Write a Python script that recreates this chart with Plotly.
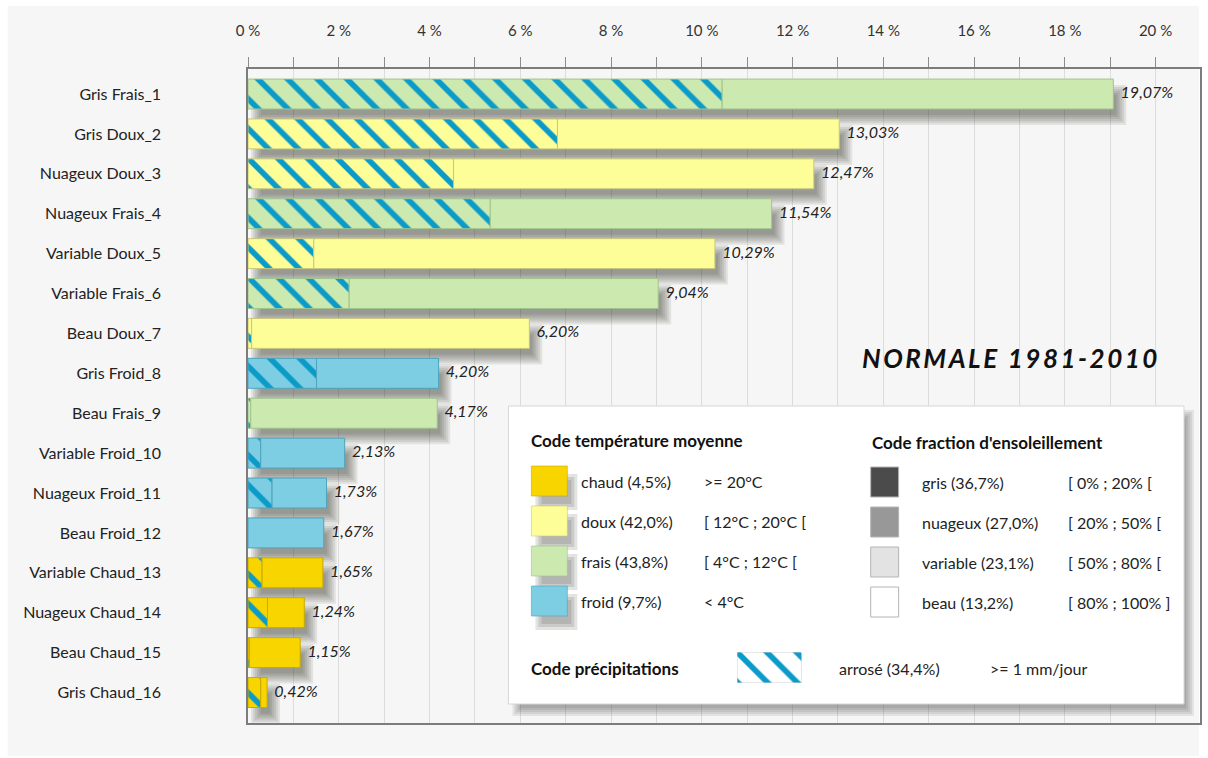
import plotly.graph_objects as go

# ---- data -------------------------------------------------------------
categories = [
    "Gris Frais_1", "Gris Doux_2", "Nuageux Doux_3", "Nuageux Frais_4",
    "Variable Doux_5", "Variable Frais_6", "Beau Doux_7", "Gris Froid_8",
    "Beau Frais_9", "Variable Froid_10", "Nuageux Froid_11", "Beau Froid_12",
    "Variable Chaud_13", "Nuageux Chaud_14", "Beau Chaud_15", "Gris Chaud_16",
]
totals = [19.07, 13.03, 12.47, 11.54, 10.29, 9.04, 6.20, 4.20,
          4.17, 2.13, 1.73, 1.67, 1.65, 1.24, 1.15, 0.42]
arrose = [10.45, 6.82, 4.53, 5.34, 1.45, 2.23, 0.08, 1.51,
          0.06, 0.28, 0.53, 0.00, 0.31, 0.43, 0.03, 0.28]
temperature = ["frais", "doux", "doux", "frais", "doux", "frais", "doux", "froid",
               "frais", "froid", "froid", "froid", "chaud", "chaud", "chaud", "chaud"]
ensoleillement = ["gris", "gris", "nuageux", "nuageux", "variable", "variable", "beau", "gris",
                  "beau", "variable", "nuageux", "beau", "variable", "nuageux", "beau", "gris"]
x_ticks = list(range(0, 21))

temp_legend = [
    ("chaud", "chaud (4,5%)", ">= 20°C"),
    ("doux", "doux (42,0%)", "[ 12°C ; 20°C ["),
    ("frais", "frais (43,8%)", "[ 4°C ; 12°C ["),
    ("froid", "froid (9,7%)", "< 4°C"),
]
sun_legend = [
    ("gris", "gris (36,7%)", "[ 0% ; 20% ["),
    ("nuageux", "nuageux (27,0%)", "[ 20% ; 50% ["),
    ("variable", "variable (23,1%)", "[ 50% ; 80% ["),
    ("beau", "beau (13,2%)", "[ 80% ; 100% ]"),
]
precip_legend = ("arrosé (34,4%)", ">= 1 mm/jour")

# ---- styles -----------------------------------------------------------
FONT = "Lato, 'Open Sans', sans-serif"
temp_fill = {"chaud": "#f9d500", "doux": "#fefe98", "frais": "#cce9b0", "froid": "#7dcee3"}
temp_edge = {"chaud": "#c9aa00", "doux": "#c9c77c", "frais": "#9fc58c", "froid": "#4ea3bd"}
sun_fill = {"gris": "#4b4b4b", "nuageux": "#989898", "variable": "#e3e3e3", "beau": "#ffffff"}
HATCH = "#0b9bc9"
HATCH_PATTERN = dict(shape="\\", fgcolor=HATCH, fgopacity=1, fillmode="overlay",
                     size=21, solidity=0.27)

W, H = 1208, 758
ML, MR, MT, MB = 248, 6, 69, 35
PW, PH = W - ML - MR, H - MT - MB
X_MAX = 20.98
Y_RANGE = [15.764, -0.627]
BAR_W = 0.75
PX_X = X_MAX / PW                       # axis units per pixel (x)
PX_Y = (Y_RANGE[0] - Y_RANGE[1]) / PH   # axis units per pixel (y)


def dx(px):
    return (px - ML) / PW


def dy(py):
    return (H - MB - py) / PH


def ax(px):
    return (px - ML) * PX_X


def ay(py):
    return Y_RANGE[1] + (py - MT) * PX_Y


rows = list(range(len(categories)))
labels = [f"{v:.2f}".replace(".", ",") + "%" for v in totals]

fig = go.Figure()

# one pair of bar traces per temperature class: hatched rainy part + dry remainder
for cls in temp_fill:
    idx = [i for i in rows if temperature[i] == cls]
    wet = [arrose[i] for i in idx]
    dry = [totals[i] - arrose[i] for i in idx]
    fig.add_trace(go.Bar(
        y=idx, x=wet, base=0, orientation="h", width=BAR_W,
        marker=dict(color=temp_fill[cls], line=dict(color=temp_edge[cls], width=1),
                    pattern=HATCH_PATTERN),
        hoverinfo="skip", showlegend=False,
    ))
    fig.add_trace(go.Bar(
        y=idx, x=dry, base=wet, orientation="h", width=BAR_W,
        marker=dict(color=temp_fill[cls], line=dict(color=temp_edge[cls], width=1)),
        hoverinfo="skip", showlegend=False,
    ))

# value labels
fig.add_trace(go.Scatter(
    y=rows, x=totals, mode="markers+text", text=labels, textposition="middle right",
    marker=dict(size=10, color="rgba(0,0,0,0)"),
    textfont=dict(family=FONT, size=16, color="#222222", style="italic"),
    hoverinfo="skip", showlegend=False, cliponaxis=False,
))
# sunshine-class squares next to category names
fig.add_trace(go.Scatter(
    y=rows, x=[ax(198)] * len(rows), mode="markers",
    marker=dict(symbol="square", size=28, color=[sun_fill[s] for s in ensoleillement],
                line=dict(color="#b4b4b4", width=1)),
    hoverinfo="skip", showlegend=False, cliponaxis=False,
))

shapes = []
# light panel behind the whole chart
shapes.append(dict(type="rect", xref="paper", yref="paper", layer="below",
                   x0=dx(7), x1=dx(1201), y0=dy(756), y1=dy(6),
                   fillcolor="#f6f6f6", line=dict(width=0)))


def rect(x0, x1, y0, y1, fill, line=None):
    shapes.append(dict(type="rect", xref="x", yref="y", layer="between",
                       x0=ax(x0), x1=ax(x1), y0=ay(y0), y1=ay(y1),
                       fillcolor=fill, line=line or dict(width=0)))


# soft drop shadows under the bars
OX, OY = 8, 11
for i, t in zip(rows, totals):
    for e in (-5, -3, -1, 1, 3, 5):
        shapes.append(dict(
            type="rect", xref="x", yref="y", layer="between",
            x0=(OX - e) * PX_X, x1=t + (OX + e) * PX_X,
            y0=i - BAR_W / 2 + (OY - e) * PX_Y, y1=i + BAR_W / 2 + (OY + e) * PX_Y,
            fillcolor="rgba(45,45,35,0.095)", line=dict(width=0),
        ))

# legend box with its shadow
BX0, BX1, BY0, BY1 = 509, 1186, 406, 704
for e in (-4, -2, 0, 2, 4):
    rect(BX0 + 8 - e, BX1 + 6 + e, BY1 + 8 + e, BY0 + 8 - e, "rgba(40,40,40,0.09)")
rect(BX0, BX1, BY1, BY0, "#ffffff", dict(color="#d6d6d6", width=1))

annotations = []


def text(x, y, s, size=16, bold=False, color="#222222"):
    annotations.append(dict(
        xref="paper", yref="paper", x=dx(x), y=dy(y), text=s, showarrow=False,
        xanchor="left", yanchor="middle",
        font=dict(family=FONT, size=size, color=color, weight="bold" if bold else "normal"),
    ))


text(530, 441, "Code température moyenne", size=17, bold=True, color="#111111")
text(871, 442, "Code fraction d'ensoleillement", size=17, bold=True, color="#111111")
text(530, 668, "Code précipitations", size=17, bold=True, color="#111111")

for k in range(len(temp_legend)):
    yc = 481 + 40 * k
    for e in (-3, 0, 3):
        rect(532 + 7 - e, 568 + 7 + e, yc + 15 + 11 + e, yc - 15 + 11 - e, "rgba(40,40,30,0.13)")
for k, (key, name, rng) in enumerate(temp_legend):
    yc = 481 + 40 * k
    rect(532, 568, yc + 15, yc - 15, temp_fill[key], dict(color=temp_edge[key], width=0.6))
    text(580, yc, name)
    text(703, yc, rng)

for k, (key, name, rng) in enumerate(sun_legend):
    yc = 482 + 40 * k
    rect(872, 900, yc + 15, yc - 15, sun_fill[key], dict(color="#b4b4b4", width=1))
    text(921, yc, name)
    text(1068, yc, rng)

text(838, 668, precip_legend[0])
text(990, 668, precip_legend[1])

# hatch swatch of the precipitation code, drawn on its own small axes
fig.add_trace(go.Bar(
    x=[1], y=[0], orientation="h", width=1, xaxis="x2", yaxis="y2",
    marker=dict(color="#ffffff", line=dict(color="#d0d0d0", width=1), pattern=HATCH_PATTERN),
    hoverinfo="skip", showlegend=False,
))

annotations.append(dict(
    xref="paper", yref="paper", x=dx(861), y=dy(358), xanchor="left", yanchor="middle",
    showarrow=False,
    text="<span style='letter-spacing:2.5px'>NORMALE 1981-2010</span>",
    font=dict(family=FONT, size=26, color="#111111", weight="bold", style="italic"),
))

fig.update_layout(
    width=W, height=H,
    margin=dict(l=ML, r=MR, t=MT, b=MB, pad=0),
    paper_bgcolor="#ffffff", plot_bgcolor="rgba(0,0,0,0)",
    barmode="overlay", showlegend=False,
    font=dict(family=FONT, color="#222222"),
    shapes=shapes, annotations=annotations,
    xaxis=dict(
        range=[0, X_MAX], side="top", tickvals=x_ticks,
        ticktext=[f"{v} %" if v % 2 == 0 else "" for v in x_ticks],
        ticks="outside", ticklen=10, tickcolor="#8c8c8c", tickwidth=1,
        showgrid=True, gridcolor="#dcdcdc", gridwidth=1, zeroline=False,
        showline=True, mirror=True, linecolor="#7c7c7c", linewidth=1.5,
        tickfont=dict(family=FONT, size=15, color="#333333"), ticklabelstandoff=15,
        fixedrange=True,
    ),
    yaxis=dict(
        range=Y_RANGE, tickvals=rows, ticktext=categories, ticks="", ticklen=0,
        showgrid=False, zeroline=False, showline=True, mirror=True,
        linecolor="#7c7c7c", linewidth=1.5,
        tickfont=dict(family=FONT, size=16, color="#222222"), ticklabelstandoff=82,
        fixedrange=True,
    ),
    xaxis2=dict(domain=[dx(738), dx(803)], range=[0, 1], visible=False, anchor="y2"),
    yaxis2=dict(domain=[dy(683), dy(652)], range=[-0.5, 0.5], visible=False, anchor="x2"),
)

fig.write_html("out.html")
